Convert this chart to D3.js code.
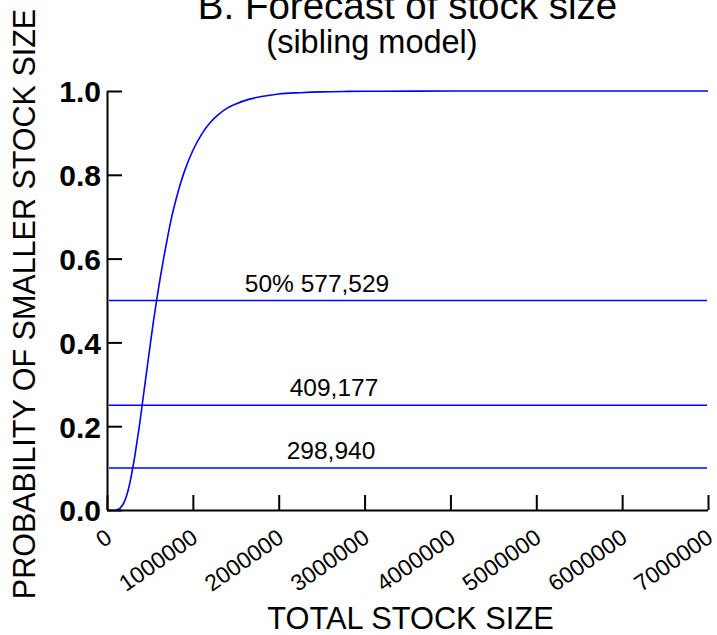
<!DOCTYPE html>
<html>
<head>
<meta charset="utf-8">
<script src="https://cdn.jsdelivr.net/npm/d3@7/dist/d3.min.js"></script>
<style>
  html, body { margin: 0; padding: 0; background: #fff; }
  svg { display: block; }
  text { font-family: "Liberation Sans", Arial, Helvetica, sans-serif; fill: #000; }
</style>
</head>
<body>
<svg id="chart" width="717" height="635"></svg>
<script>
// Cumulative probability of a smaller total stock size
const stockSize = [110000, 130000, 150000, 175000, 200000, 225000, 250000, 275000, 298940,
  325000, 350000, 380000, 409177, 450000, 500000, 540000, 577529, 620000, 660000, 700000,
  750000, 800000, 850000, 900000, 1000000, 1100000, 1200000, 1300000, 1400000, 1500000,
  1650000, 1800000, 2000000, 2250000, 2500000, 2800000, 3200000, 3600000, 4000000,
  5000000, 6000000, 7000000];
const probSmaller = [0, 0.0016, 0.004, 0.010, 0.019, 0.032, 0.050, 0.073, 0.100,
  0.130, 0.164, 0.205, 0.250, 0.313, 0.389, 0.449, 0.500, 0.554, 0.601, 0.645,
  0.696, 0.738, 0.775, 0.807, 0.858, 0.896, 0.924, 0.944, 0.959, 0.969,
  0.980, 0.987, 0.993, 0.996, 0.998, 0.999, 0.9995, 0.9998, 1.0,
  1.0, 1.0, 1.0];

// Reference probability levels and their labels
const refLevels = [0.5, 0.25, 0.1];
const refLabels = ["50% 577,529", "409,177", "298,940"];
const refLabelX = [317, 334, 331];

const xTicks = [0, 1000000, 2000000, 3000000, 4000000, 5000000, 6000000, 7000000];
const yTicks = [0, 0.2, 0.4, 0.6, 0.8, 1.0];

const svg = d3.select("#chart");
const plotLeft = 107, plotRight = 708, plotTop = 91, plotBottom = 510;

const x = d3.scaleLinear().domain([0, 7000000]).range([plotLeft, plotRight]);
const y = d3.scaleLinear().domain([0, 1]).range([plotBottom, plotTop]);

// Title
svg.append("text")
  .attr("x", 407.5).attr("y", 19)
  .attr("text-anchor", "middle")
  .style("font-size", "38.5px")
  .text("B. Forecast of stock size");
svg.append("text")
  .attr("x", 372).attr("y", 53)
  .attr("text-anchor", "middle")
  .style("font-size", "32.5px")
  .text("(sibling model)");

// Reference lines
const blue = "#0000ff";
svg.append("g").selectAll("line")
  .data(refLevels)
  .join("line")
  .attr("x1", plotLeft + 2).attr("x2", plotRight - 1)
  .attr("y1", d => y(d)).attr("y2", d => y(d))
  .attr("stroke", blue).attr("stroke-width", 1.5);

svg.append("g").selectAll("text")
  .data(refLevels)
  .join("text")
  .attr("x", (d, i) => refLabelX[i])
  .attr("y", d => y(d) - 9)
  .attr("text-anchor", "middle")
  .style("font-size", "24.5px")
  .text((d, i) => refLabels[i]);

// CDF curve
const pts = stockSize.map((s, i) => [s, probSmaller[i]]);
svg.append("path")
  .datum(pts)
  .attr("fill", "none")
  .attr("stroke", blue)
  .attr("stroke-width", 1.6)
  .attr("d", d3.line().x(d => x(d[0])).y(d => y(d[1])).curve(d3.curveMonotoneX));

// Y axis (ticks point inward)
const yAxis = svg.append("g")
  .attr("transform", `translate(${plotLeft},0)`)
  .call(d3.axisRight(y).tickValues(yTicks).tickSize(15).tickFormat(d3.format(".1f")));
yAxis.select(".domain").attr("stroke", "#000").attr("stroke-width", 2)
  .attr("d", `M0.5,${plotTop}V${plotBottom}`);
yAxis.selectAll(".tick line").attr("stroke", "#000").attr("stroke-width", 2);
yAxis.selectAll(".tick text")
  .attr("x", -6).attr("dy", "0.36em")
  .attr("text-anchor", "end")
  .style("font-size", "30px").style("font-weight", "bold")
  .style("font-family", "'Liberation Sans', Arial, sans-serif");

// X axis (ticks point inward, labels rotated)
const xAxis = svg.append("g")
  .attr("transform", `translate(0,${plotBottom})`)
  .call(d3.axisTop(x).tickValues(xTicks).tickSize(15).tickFormat(d3.format("d")));
xAxis.select(".domain").attr("stroke", "#000").attr("stroke-width", 2)
  .attr("d", `M${plotLeft},0.5H${plotRight}`);
xAxis.selectAll(".tick line").attr("stroke", "#000").attr("stroke-width", 2);
xAxis.selectAll(".tick text")
  .attr("x", 0).attr("y", 0).attr("dy", 0)
  .attr("text-anchor", "end")
  .attr("transform", "translate(6,31) rotate(-35)")
  .style("font-size", "23px")
  .style("font-family", "'Liberation Sans', Arial, sans-serif");

// Axis titles
svg.append("text")
  .attr("x", 410.5).attr("y", 629)
  .attr("text-anchor", "middle")
  .style("font-size", "30.8px")
  .text("TOTAL STOCK SIZE");
svg.append("text")
  .attr("transform", "translate(35,304) rotate(-90)")
  .attr("text-anchor", "middle")
  .style("font-size", "30.5px")
  .text("PROBABILITY OF SMALLER STOCK SIZE");
</script>
</body>
</html>
